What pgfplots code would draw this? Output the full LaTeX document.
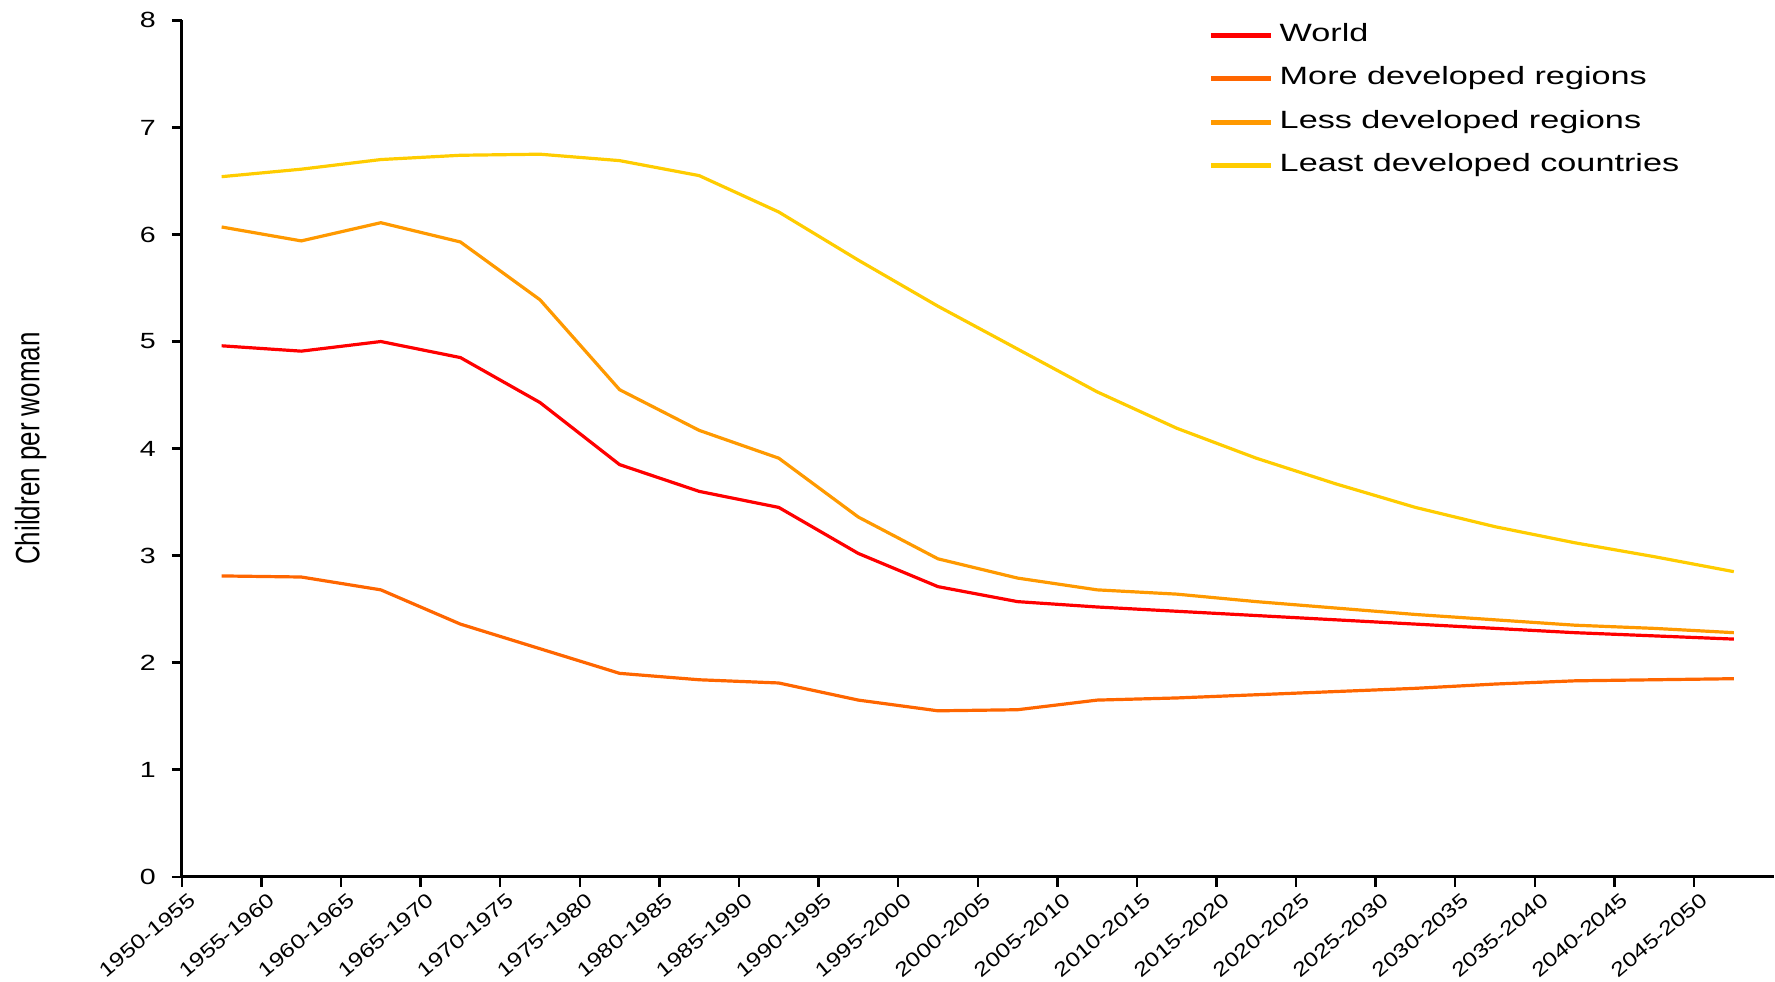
\documentclass[border=0pt]{standalone}
\usepackage{pgfplots}
\pgfplotsset{compat=1.18}
\usepackage{fontspec}
\setmainfont{Liberation Sans}
\definecolor{cworld}{HTML}{FF0000}
\definecolor{cmore}{HTML}{FF6600}
\definecolor{cless}{HTML}{FF9900}
\definecolor{cleast}{HTML}{FFCC00}
\newcommand\xl[1]{\scalebox{1.23}[1]{#1}}
\pgfplotstableread{
k world more less least
0.5 4.96 2.81 6.07 6.54
1.5 4.91 2.80 5.94 6.61
2.5 5.00 2.68 6.11 6.70
3.5 4.85 2.36 5.93 6.74
4.5 4.43 2.13 5.39 6.75
5.5 3.85 1.90 4.55 6.69
6.5 3.60 1.84 4.17 6.55
7.5 3.45 1.81 3.91 6.21
8.5 3.02 1.65 3.36 5.76
9.5 2.71 1.55 2.97 5.33
10.5 2.57 1.56 2.79 4.93
11.5 2.52 1.65 2.68 4.53
12.5 2.48 1.67 2.64 4.19
13.5 2.44 1.70 2.57 3.91
14.5 2.40 1.73 2.51 3.67
15.5 2.36 1.76 2.45 3.45
16.5 2.32 1.80 2.40 3.27
17.5 2.28 1.83 2.35 3.12
18.5 2.25 1.84 2.32 2.99
19.5 2.22 1.85 2.28 2.85
}\tfr
\begin{document}
\begin{tikzpicture}
\begin{axis}[
  at={(0,0)}, anchor=south west,
  scale only axis, width=796.5pt, height=428.5pt,
  xmin=0, xmax=20, ymin=0, ymax=8,
  axis x line*=bottom, axis y line*=left,
  axis line style={-, line width=1.4pt, black},
  tick align=outside,
  major tick length=5pt,
  tick style={black, line width=1.2pt},
  ytick={0,1,...,8},
  yticklabel={\scalebox{1.3}[1]{\pgfmathprintnumber{\tick}}},
  xtick={0,1,...,19},
  xticklabels={\xl{1950-1955},\xl{1955-1960},\xl{1960-1965},\xl{1965-1970},\xl{1970-1975},\xl{1975-1980},\xl{1980-1985},\xl{1985-1990},\xl{1990-1995},\xl{1995-2000},\xl{2000-2005},\xl{2005-2010},\xl{2010-2015},\xl{2015-2020},\xl{2020-2025},\xl{2025-2030},\xl{2030-2035},\xl{2035-2040},\xl{2040-2045},\xl{2045-2050}},
  /pgf/number format/assume math mode=true,
  yticklabel style={font=\fontsize{11pt}{13pt}\selectfont, anchor=east, xshift=-4.5pt},
  xticklabel style={font=\fontsize{10pt}{12pt}\selectfont, xshift=3pt, yshift=-1pt, rotate=40, anchor=north east, inner sep=1pt},
  ylabel={\scalebox{1}[1.3]{Children per woman}},
  ylabel style={font=\fontsize{13pt}{15pt}\selectfont, at={(axis description cs:-0.095,0.5)}, anchor=center},
  legend cell align=left,
  legend style={draw=none, fill=none, at={(rel axis cs:0.6449,0.9968)}, anchor=north west,
    font=\fontsize{12.5pt}{14pt}\selectfont, inner sep=0pt, row sep=9.7pt,
    nodes={inner sep=0pt, text height=9pt, text depth=3pt}},
  legend image code/.code={\draw[#1, line width=2.5pt] (0pt,0pt) -- (30pt,0pt);},
  every axis plot/.append style={line width=1.6pt},
]
\addplot[cworld] table[x=k,y=world]{\tfr};
\addlegendentry{\hspace{3pt}\scalebox{1.37}[1]{World}}
\addplot[cmore] table[x=k,y=more]{\tfr};
\addlegendentry{\hspace{3pt}\scalebox{1.37}[1]{More developed regions}}
\addplot[cless] table[x=k,y=less]{\tfr};
\addlegendentry{\hspace{3pt}\scalebox{1.37}[1]{Less developed regions}}
\addplot[cleast] table[x=k,y=least]{\tfr};
\addlegendentry{\hspace{3pt}\scalebox{1.37}[1]{Least developed countries}}
\end{axis}
\path[use as bounding box] (-91pt,-52.35pt) rectangle (796.5pt,438.7pt);
\end{tikzpicture}
\end{document}
